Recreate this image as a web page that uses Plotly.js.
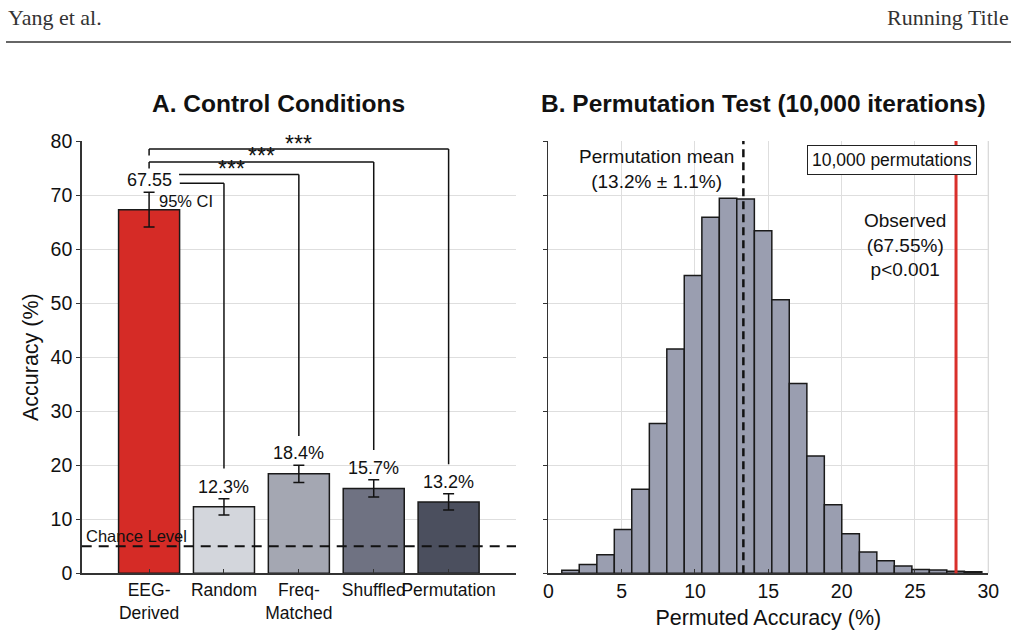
<!DOCTYPE html>
<html>
<head>
<meta charset="utf-8">
<script src="https://cdn.plot.ly/plotly-3.0.1.min.js"></script>
<style>html,body{margin:0;padding:0;background:#fff;}#chart{width:1018px;height:636px;}</style>
</head>
<body>
<div id="chart"></div>
<script>
// ---------- Panel A data ----------
const categories = ["EEG-<br>Derived", "Random", "Freq-<br>Matched", "Shuffled", "Permutation"];
const accuracy = [67.3, 12.3, 18.4, 15.7, 13.2];
const ciError = [3.2, 1.5, 1.6, 1.6, 1.5];
const valueLabels = ["67.55", "12.3%", "18.4%", "15.7%", "13.2%"];
const barColors = ["#d52b26", "#d3d6dc", "#a4a7b2", "#6f7282", "#4b4f5e"];
const chanceLevel = 5;

// ---------- Panel B data ----------
const binEdges = [0.92, 2.11, 3.31, 4.50, 5.69, 6.89, 8.08, 9.27, 10.47, 11.66, 12.85, 14.05, 15.24,
                  16.43, 17.63, 18.82, 20.01, 21.21, 22.40, 23.59, 24.79, 25.98, 27.17, 28.37, 29.56];
const binCounts = [10, 29, 62, 146, 280, 499, 747, 992, 1186, 1249, 1247, 1141, 911, 632, 391, 228,
                   132, 71, 42, 24, 13, 11, 7, 5];
const permMeanPos = 13.3;
const observedPos = 27.8;

const FONT = "Liberation Sans, Arial, sans-serif";
const idx = categories.map((c, i) => i);

const barTrace = {
  type: "bar", x: idx, y: accuracy, width: 0.815,
  marker: {color: barColors, line: {color: "#1a1a1a", width: 1.5}},
  error_y: {type: "data", array: ciError, visible: true, color: "#111", thickness: 1.5, width: 5.5},
  xaxis: "x", yaxis: "y", hoverinfo: "skip", showlegend: false
};

const centers = binCounts.map((c, i) => (binEdges[i] + binEdges[i + 1]) / 2);
const widths = binCounts.map((c, i) => binEdges[i + 1] - binEdges[i]);
const histTrace = {
  type: "bar", x: centers, y: binCounts, width: widths,
  marker: {color: "#9a9eb0", line: {color: "#1a1a1a", width: 1.5}},
  xaxis: "x2", yaxis: "y2", hoverinfo: "skip", showlegend: false
};

const annotations = [];
// header
annotations.push({xref: "paper", yref: "paper", x: 6 / 1018, y: 1 - 17 / 636, xanchor: "left", yanchor: "middle",
  text: "Yang et al.", showarrow: false, font: {family: "Liberation Serif, serif", size: 22, color: "#333"}});
annotations.push({xref: "paper", yref: "paper", x: 1011 / 1018, y: 1 - 17 / 636, xanchor: "right", yanchor: "middle",
  text: "Running Title", showarrow: false, font: {family: "Liberation Serif, serif", size: 22, color: "#333"}});
// titles
annotations.push({xref: "paper", yref: "paper", x: 278 / 1018, y: 1 - 103 / 636, xanchor: "center", yanchor: "middle",
  text: "<b>A. Control Conditions</b>", showarrow: false, font: {family: FONT, size: 24.5, color: "#111"}});
annotations.push({xref: "paper", yref: "paper", x: 763 / 1018, y: 1 - 103 / 636, xanchor: "center", yanchor: "middle",
  text: "<b>B. Permutation Test (10,000 iterations)</b>", showarrow: false, font: {family: FONT, size: 24.5, color: "#111"}});
// value labels
valueLabels.forEach((t, i) => {
  annotations.push({xref: "x", yref: "y", x: i, y: accuracy[i] + ciError[i], xanchor: "center", yanchor: "bottom",
    yshift: 0, text: t, showarrow: false, font: {family: FONT, size: 18, color: "#111"}});
});
annotations.push({xref: "x", yref: "y", x: 0.1, y: 68.9, xanchor: "left", yanchor: "middle",
  text: "95% CI", showarrow: false, font: {family: FONT, size: 16.5, color: "#111"}});
annotations.push({xref: "x domain", yref: "y", x: 0.006, y: 6.9, xanchor: "left", yanchor: "middle",
  text: "Chance Level", showarrow: false, font: {family: FONT, size: 16.5, color: "#111"}});
// significance stars
[[2, 79.5], [1.5, 77.2], [1.1, 74.8]].forEach(p => {
  annotations.push({xref: "x", yref: "y", x: p[0], y: p[1], xanchor: "center", yanchor: "middle",
    text: "***", showarrow: false, font: {family: FONT, size: 23, color: "#111"}});
});
// panel B annotations
annotations.push({xref: "x2", yref: "y2", x: 7.38, y: 1348, xanchor: "center", yanchor: "middle",
  text: "Permutation mean<br>(13.2% ± 1.1%)", showarrow: false, font: {family: FONT, size: 19, color: "#111"}});
annotations.push({xref: "x2", yref: "y2", x: 23.41, y: 1377, xanchor: "center", yanchor: "middle",
  text: "10,000 permutations", showarrow: false, bgcolor: "#fff", bordercolor: "#222", borderwidth: 1, borderpad: 4,
  font: {family: FONT, size: 17.5, color: "#111"}});
annotations.push({xref: "x2", yref: "y2", x: 24.32, y: 1094, xanchor: "center", yanchor: "middle",
  text: "Observed<br>(67.55%)<br>p&lt;0.001", showarrow: false, font: {family: FONT, size: 19, color: "#111"}});

const shapes = [];
shapes.push({type: "line", xref: "paper", yref: "paper", x0: 6 / 1018, x1: 1011 / 1018, y0: 1 - 42 / 636, y1: 1 - 42 / 636,
  line: {color: "#333", width: 1.3}});
shapes.push({type: "line", xref: "x domain", yref: "y", x0: 0, x1: 1, y0: chanceLevel, y1: chanceLevel,
  line: {color: "#111", width: 2, dash: "10px,7px"}});
function seg(x0, y0, x1, y1) {
  shapes.push({type: "line", xref: "x", yref: "y", x0: x0, y0: y0, x1: x1, y1: y1, line: {color: "#111", width: 1.5}});
}
// bracket to Permutation
seg(0, 77.3, 0, 78.5); seg(0, 78.5, 4, 78.5); seg(4, 78.5, 4, 20.2);
// bracket to Shuffled
seg(0, 74.9, 0, 76.1); seg(0, 76.1, 3, 76.1); seg(3, 76.1, 3, 22.8);
// bracket to Freq-Matched
seg(0.4, 73.8, 2, 73.8); seg(2, 73.8, 2, 25.4);
// bracket to Random
seg(0.41, 72.2, 1, 72.2); seg(1, 72.2, 1, 19.4);
// panel B right-edge grid line
shapes.push({type: "line", xref: "x2 domain", yref: "y2 domain", x0: 1, x1: 1, y0: 0, y1: 1,
  line: {color: "#d6d6d6", width: 1.2}, layer: "below"});
// panel B lines
shapes.push({type: "line", xref: "x2", yref: "y2 domain", x0: permMeanPos, x1: permMeanPos, y0: 0, y1: 1,
  line: {color: "#111", width: 2.5, dash: "8px,5px"}});
shapes.push({type: "line", xref: "x2", yref: "y2 domain", x0: observedPos, x1: observedPos, y0: 0, y1: 1,
  line: {color: "#d9302b", width: 3}});

const ydom = [(636 - 573.3) / 636, (636 - 141) / 636];
const layout = {
  width: 1018, height: 636, margin: {l: 0, r: 0, t: 0, b: 0},
  paper_bgcolor: "#fff", plot_bgcolor: "#fff",
  font: {family: FONT, color: "#111"},
  bargap: 0,
  xaxis: {domain: [81.7 / 1018, 516 / 1018], range: [-0.9, 4.9], tickvals: idx, ticktext: categories, tickangle: 0,
    showgrid: false, zeroline: false, showline: true, linecolor: "#333", linewidth: 1.5,
    ticks: "inside", ticklen: 4, tickcolor: "#333", tickfont: {size: 17.5, family: FONT, color: "#111"}},
  yaxis: {domain: ydom, range: [0, 80], dtick: 10, showgrid: true, gridcolor: "#dedede", gridwidth: 1,
    zeroline: false, showline: true, linecolor: "#333", linewidth: 1.5, ticks: "outside", ticklen: 4, tickcolor: "#333",
    tickfont: {size: 19.5, family: FONT, color: "#111"},
    title: {text: "Accuracy (%)", font: {size: 21.5, family: FONT, color: "#111"}, standoff: 6}},
  xaxis2: {domain: [548.3 / 1018, 988.3 / 1018], anchor: "y2", range: [0, 30], dtick: 5, showgrid: true,
    gridcolor: "#dedede", zeroline: false, showline: true, linecolor: "#333", linewidth: 1.5,
    ticks: "inside", ticklen: 4, tickcolor: "#333", tickfont: {size: 19.5, family: FONT, color: "#111"},
    title: {text: "Permuted Accuracy (%)", font: {size: 21.5, family: FONT, color: "#111"}, standoff: 8}},
  yaxis2: {domain: ydom, anchor: "x2", range: [0, 1440], dtick: 180, showgrid: true, gridcolor: "#dedede",
    zeroline: false, showline: true, linecolor: "#333", linewidth: 1.5, ticks: "outside", ticklen: 4,
    tickcolor: "#333", showticklabels: false},
  annotations: annotations,
  shapes: shapes
};

Plotly.newPlot("chart", [barTrace, histTrace], layout, {staticPlot: true, displayModeBar: false});
</script>
</body>
</html>
